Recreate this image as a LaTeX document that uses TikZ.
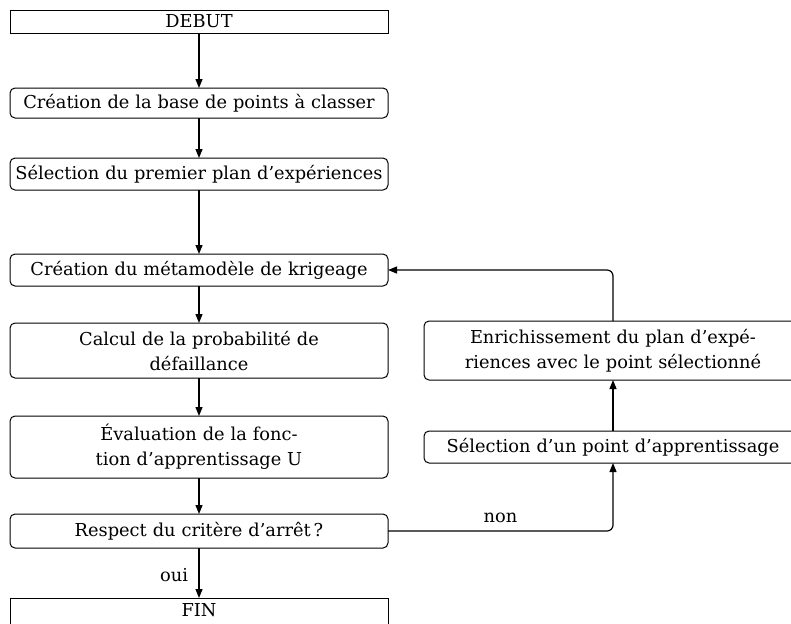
\documentclass[tikz,border=0pt]{standalone}
\usepackage{fontspec}
\setmainfont{DejaVu Serif}
\usetikzlibrary{arrows.meta}
\begin{document}
\begin{tikzpicture}[x=0.5pt,y=-0.5pt,
  every node/.style={inner sep=0pt, outer sep=0pt, font=\fontsize{8.9}{12.5}\selectfont},
  sq/.style={draw, line width=0.5pt, minimum width=189pt, align=center},
  rbox/.style={draw, line width=0.5pt, rounded corners=2.5pt, minimum width=189pt, align=center, text width=184pt},
  conn/.style={line width=0.6pt, -{Triangle[length=4.5pt,width=3.5pt]}},
  lbl/.style={font=\fontsize{8.9}{12}\selectfont}]
\useasboundingbox (0,0) rectangle (791,623);
\node[sq, minimum height=11.5pt] (debut) at (199,21.5) {DEBUT};
\node[rbox, minimum height=15pt] (base) at (199,103) {Création de la base de points à classer};
\node[rbox, minimum height=16pt] (sel1) at (199,174) {Sélection du premier plan d'expériences};
\node[rbox, minimum height=16pt] (meta) at (199,270) {Création du métamodèle de krigeage};
\node[rbox, minimum height=27.5pt] (calc) at (199,350.5) {Calcul de la probabilité de\\défaillance};
\node[rbox, minimum height=31pt] (eval) at (199,447) {Évaluation de la fonc-\\tion d'apprentissage U};
\node[rbox, minimum height=17pt] (resp) at (199,531) {Respect du critère d'arrêt\,?};
\node[sq, minimum height=14pt, text depth=0pt] (fin) at (199,612) {\raisebox{2pt}{FIN}};
\node[rbox, minimum height=29.5pt] (enr) at (613,350.5) {Enrichissement du plan d'expé-\\riences avec le point sélectionné};
\node[rbox, minimum height=16pt] (sel2) at (613,447) {Sélection d'un point d'apprentissage};
\coordinate (c1) at (613,270);
\coordinate (c2) at (613,531);
\draw[conn] (debut) -- (base);
\draw[conn] (base) -- (sel1);
\draw[conn] (sel1) -- (meta);
\draw[conn] (meta) -- (calc);
\draw[conn] (calc) -- (eval);
\draw[conn] (eval) -- (resp);
\draw[conn] (resp) -- node[lbl, anchor=east, xshift=-5.5pt, yshift=-1pt] (oui) {oui} (fin);
\draw[conn, rounded corners=3pt] (resp.east) -- node[lbl, pos=0.5, anchor=south, yshift=4pt] (non) {non} (c2) -- (sel2.south);
\draw[conn] (sel2) -- (enr);
\draw[conn, rounded corners=3pt] (enr.north) -- (c1) -- (meta.east);
\end{tikzpicture}
\end{document}
